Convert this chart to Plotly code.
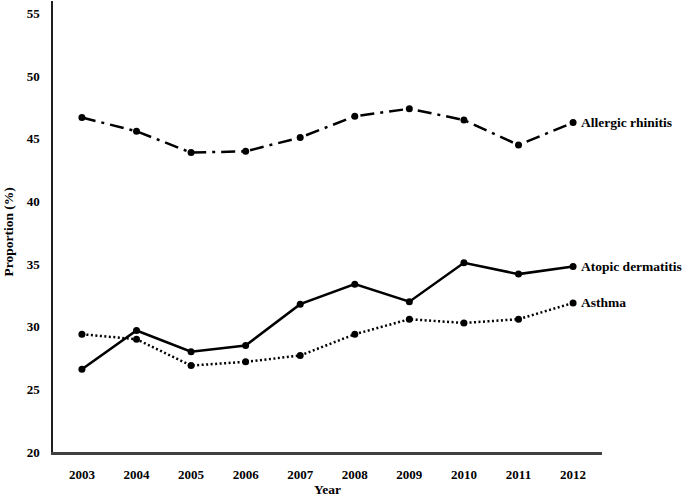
import plotly.graph_objects as go

years = ["2003", "2004", "2005", "2006", "2007", "2008", "2009", "2010", "2011", "2012"]
allergic_rhinitis = [46.7, 45.6, 43.9, 44.0, 45.1, 46.8, 47.4, 46.5, 44.5, 46.3]
atopic_dermatitis = [26.6, 29.7, 28.0, 28.5, 31.8, 33.4, 32.0, 35.1, 34.2, 34.8]
asthma = [29.4, 29.0, 26.9, 27.2, 27.7, 29.4, 30.6, 30.3, 30.6, 31.9]
y_ticks = [20, 25, 30, 35, 40, 45, 50, 55]

FONT = "Times New Roman, Liberation Serif, serif"

series = [
    ("Allergic rhinitis", allergic_rhinitis, "14px,6px,3px,6px", 2.5),
    ("Atopic dermatitis", atopic_dermatitis, "solid", 2.5),
    ("Asthma", asthma, "2px,2.5px", 2.5),
]

fig = go.Figure()
for name, vals, dash, w in series:
    fig.add_trace(go.Scatter(
        x=years, y=vals, name=name, mode="lines+markers",
        line=dict(color="black", width=w, dash=dash),
        marker=dict(color="black", size=7, symbol="circle"),
        showlegend=False, cliponaxis=False,
    ))
    fig.add_annotation(
        x=len(years) - 1, y=vals[-1], text="<b>%s</b>" % name, showarrow=False,
        xref="x", yref="y",
        xanchor="left", yanchor="middle", xshift=6,
        font=dict(family=FONT, size=13.5, color="black"),
    )

# axis titles
fig.add_annotation(x=0.5, y=0, xref="paper", yref="paper", yshift=-37,
                   text="<b>Year</b>", showarrow=False, xanchor="center", yanchor="middle",
                   font=dict(family=FONT, size=13.5, color="black"))
fig.add_annotation(x=0, y=0.5, xref="paper", yref="paper", xshift=-45, yshift=-6,
                   text="<b>Proportion (%)</b>", showarrow=False, textangle=-90,
                   xanchor="center", yanchor="middle",
                   font=dict(family=FONT, size=13.5, color="black"))

fig.update_layout(
    width=685, height=496,
    margin=dict(l=53, r=83, t=1, b=44, autoexpand=False),
    plot_bgcolor="white", paper_bgcolor="white",
    font=dict(family=FONT, size=13, color="black"),
    xaxis=dict(
        type="category", range=[-0.53, 9.53], automargin=False,
        showline=True, linecolor="#404040", linewidth=2.5,
        showgrid=False, zeroline=False, ticks="",
        ticklabelstandoff=9,
        tickfont=dict(family=FONT, size=13, color="black", weight="bold"),
    ),
    yaxis=dict(
        range=[20, 56], tickvals=y_ticks, automargin=False,
        showline=True, linecolor="#202020", linewidth=1.5,
        showgrid=False, zeroline=False, ticks="",
        ticklabelstandoff=9,
        tickfont=dict(family=FONT, size=13, color="black", weight="bold"),
    ),
)

fig.write_html("out.html", config={"displayModeBar": False},
               post_script="document.body.style.margin='0';")
